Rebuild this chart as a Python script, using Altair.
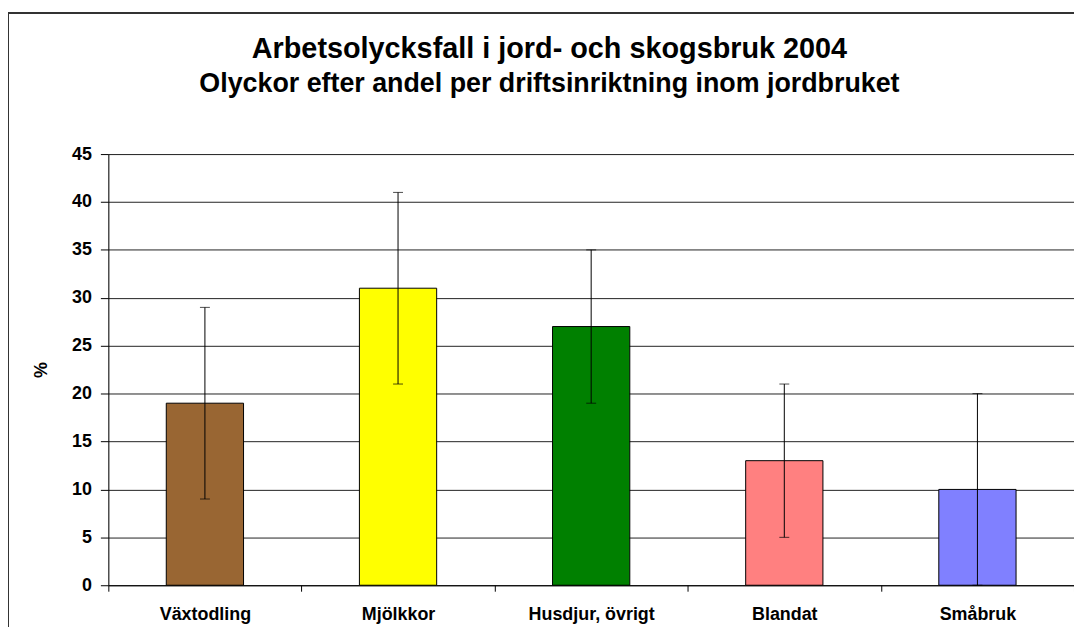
import altair as alt
import pandas as pd

categories = ["Växtodling", "Mjölkkor", "Husdjur, övrigt", "Blandat", "Småbruk"]
values = [19, 31, 27, 13, 10]
err_low = [9, 21, 19, 5, 0]
err_high = [29, 41, 35, 21, 20]
colors = ["#996633", "#FFFF00", "#008000", "#FF8080", "#8080FF"]

df = pd.DataFrame({"kat": categories, "v": values, "lo": err_low, "hi": err_high})

FONT = "Liberation Sans"

x = alt.X("kat:N", sort=categories, title=None,
          scale=alt.Scale(paddingInner=0, paddingOuter=0),
          axis=alt.Axis(tickBand="extent", labelAngle=0, labelFont=FONT, labelFontSize=18,
                        labelFontWeight="bold", labelColor="black", labelPadding=14,
                        tickSize=6, tickColor="black", domainColor="black", grid=False))
y = alt.Y("v:Q", title="%",
          scale=alt.Scale(domain=[0, 45], nice=False),
          axis=alt.Axis(values=list(range(0, 50, 5)), labelFont=FONT, labelFontSize=18,
                        labelFontWeight="bold", labelColor="black", labelPadding=9,
                        tickSize=8, tickColor="black", domainColor="black",
                        grid=True, gridColor="#222222", gridWidth=1,
                        titleFont=FONT, titleFontSize=18, titleFontWeight="bold",
                        titleColor="black", titleAngle=270, titleBaseline="middle",
                        titleX=-67, titleY=217))

base = alt.Chart(df)

bars = base.mark_bar(stroke="black", strokeWidth=1, width=alt.RelativeBandSize(0.4)).encode(
    x=x, y=y,
    color=alt.Color("kat:N", scale=alt.Scale(domain=categories, range=colors), legend=None),
)
err = base.mark_rule(color="black", strokeWidth=1).encode(
    x=alt.X("kat:N", sort=categories), y=alt.Y("lo:Q"), y2="hi:Q")
caps_hi = base.mark_tick(color="black", thickness=1, size=10, orient="horizontal").encode(
    x=alt.X("kat:N", sort=categories), y=alt.Y("hi:Q"))
caps_lo = base.mark_tick(color="black", thickness=1, size=10, orient="horizontal").encode(
    x=alt.X("kat:N", sort=categories), y=alt.Y("lo:Q"))

frame = pd.DataFrame({"f": [0]})
border_left = alt.Chart(frame).mark_rule(color="#333333", strokeWidth=2, clip=False).encode(
    x=alt.value(-101), y=alt.value(-142), y2=alt.value(520))
border_top = alt.Chart(frame).mark_rule(color="#333333", strokeWidth=2, clip=False).encode(
    x=alt.value(-101), x2=alt.value(1000), y=alt.value(-142))

chart = alt.layer(bars, err, caps_hi, caps_lo, border_left, border_top).properties(
    width=972, height=434,
    title=alt.Title(
        "Arbetsolycksfall i jord- och skogsbruk 2004",
        subtitle="Olyckor efter andel per driftsinriktning inom jordbruket",
        anchor="middle", frame="group", dx=-42, dy=86, offset=0,
        font=FONT, fontSize=29, fontWeight="bold", color="black",
        subtitleFont=FONT, subtitleFontSize=27, subtitleFontWeight="bold",
        subtitleColor="black", subtitlePadding=8,
    ),
    autosize=alt.AutoSizeParams(type="none"),
    padding={"left": 101, "top": 145, "right": 0, "bottom": 40},
).configure_view(fill="#C0C0C0", stroke=None).configure(background="white")

chart.save("out.html", embed_options={"renderer": "svg", "actions": False})
